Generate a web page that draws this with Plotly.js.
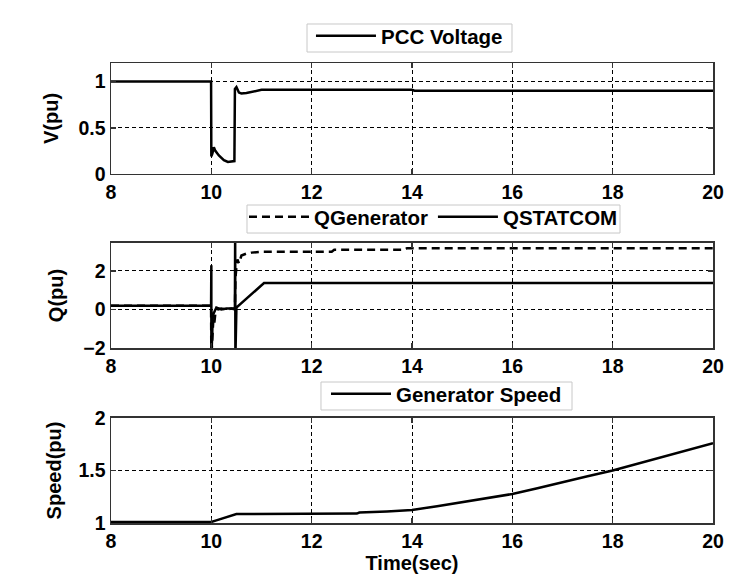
<!DOCTYPE html>
<html><head><meta charset="utf-8">
<script src="https://cdn.plot.ly/plotly-3.0.1.min.js"></script>
<style>html,body{margin:0;padding:0;background:#fff}#chart{width:732px;height:585px}</style>
</head><body><div id="chart"></div>
<script>
const voltTime = [8, 9.995, 10.0, 10.02, 10.05, 10.08, 10.15, 10.25, 10.33, 10.46, 10.47, 10.5, 10.55, 10.6, 10.7, 10.8, 10.9, 11.0, 14.0, 14.05, 20];
const voltPU   = [1.0, 1.0, 0.19, 0.22, 0.29, 0.25, 0.2, 0.15, 0.13, 0.14, 0.92, 0.94, 0.88, 0.87, 0.875, 0.885, 0.895, 0.91, 0.91, 0.9, 0.9];

const qGenTime = [8, 9.995, 10.0, 10.02, 10.04, 10.06, 10.08, 10.12, 10.2, 10.3, 10.4, 10.47, 10.48, 10.5, 10.52, 10.55, 10.6, 10.7, 10.8, 11.0, 12.4, 12.45, 13.85, 13.9, 20];
const qGen     = [0.2, 0.2, -2.5, -1.0, -0.5, -0.7, -0.2, 0.0, 0.05, 0.0, 0.05, 0.0, 1.6, 2.2, 2.6, 2.4, 2.8, 2.9, 2.95, 3.0, 3.0, 3.1, 3.1, 3.18, 3.18];

const qStatTime = [8, 9.995, 10.0, 10.001, 10.03, 10.06, 10.1, 10.2, 10.3, 10.4, 10.47, 10.475, 10.48, 10.5, 10.7, 10.9, 11.05, 20];
const qStat     = [0.2, 0.2, 2.3, -2.5, -0.3, -0.1, 0.1, 0.0, 0.05, 0.05, 0.05, 4.0, -2.5, 0.1, 0.55, 1.0, 1.37, 1.37];

const speedTime = [8, 10.0, 10.1, 10.3, 10.5, 12.9, 12.95, 13.5, 14, 14.5, 15, 15.5, 16, 16.5, 17, 17.5, 18, 18.5, 19, 19.5, 20];
const speedPU   = [1.01, 1.01, 1.025, 1.055, 1.085, 1.09, 1.1, 1.11, 1.124, 1.16, 1.2, 1.235, 1.276, 1.33, 1.39, 1.445, 1.5, 1.565, 1.63, 1.695, 1.76];

const xTicks = [8, 10, 12, 14, 16, 18, 20];

const FONT = 'Liberation Sans, Arial, sans-serif';
const tickFont = {family: FONT, size: 19.5, color: '#000', weight: 'bold'};
const titleFont = {family: FONT, size: 20, color: '#000', weight: 'bold'};
const legFont = {family: FONT, size: 20.5, color: '#000', weight: 'bold'};

function xax(anchor, title) {
  const a = {
    domain: [0, 1], anchor: anchor, range: [8, 20], tickvals: xTicks,
    showline: true, mirror: 'ticks', linecolor: '#333', linewidth: 1.5,
    ticks: 'inside', ticklen: 5, tickcolor: '#333', tickwidth: 1.5,
    showgrid: true, gridcolor: '#000', gridwidth: 1, griddash: '4px,3px',
    zeroline: false, tickfont: tickFont, automargin: false
  };
  if (title) a.title = {text: title, font: titleFont, standoff: 2};
  return a;
}
function yax(domain, range, tickvals, title, standoff) {
  return {
    domain: domain, range: range, tickvals: tickvals,
    showline: true, mirror: 'ticks', linecolor: '#333', linewidth: 1.5,
    ticks: 'inside', ticklen: 5, tickcolor: '#333', tickwidth: 1.5,
    showgrid: true, gridcolor: '#000', gridwidth: 1, griddash: '4px,3px',
    zeroline: false, tickfont: tickFont, automargin: false,
    title: {text: title, font: titleFont, standoff: standoff}
  };
}

const traces = [
  {x: voltTime, y: voltPU, xaxis: 'x', yaxis: 'y', mode: 'lines', name: 'PCC Voltage',
   line: {color: '#000', width: 2.5}, legend: 'legend'},
  {x: qGenTime, y: qGen, xaxis: 'x2', yaxis: 'y2', mode: 'lines', name: 'QGenerator',
   line: {color: '#000', width: 2.5, dash: '8px,5px'}, legend: 'legend2'},
  {x: qStatTime, y: qStat, xaxis: 'x2', yaxis: 'y2', mode: 'lines', name: 'QSTATCOM',
   line: {color: '#000', width: 2.5}, legend: 'legend2'},
  {x: speedTime, y: speedPU, xaxis: 'x3', yaxis: 'y3', mode: 'lines', name: 'Generator Speed',
   line: {color: '#000', width: 2.5}, legend: 'legend3'}
];

const legBase = {orientation: 'h', xanchor: 'center', yanchor: 'top', bgcolor: 'rgba(0,0,0,0)',
  borderwidth: 0, font: legFont, itemwidth: 60};

function legBox(x0, x1, y0, y1) {
  return {type: 'rect', xref: 'paper', yref: 'paper', x0: x0, x1: x1, y0: y0, y1: y1,
    line: {color: '#c8c8c8', width: 1}, fillcolor: '#fff', layer: 'above'};
}

const layout = {
  width: 732, height: 585,
  margin: {l: 111, r: 19, t: 63, b: 62},
  paper_bgcolor: '#fff', plot_bgcolor: '#fff',
  showlegend: true,
  xaxis: xax('y'),
  xaxis2: xax('y2'),
  xaxis3: xax('y3', 'Time(sec)'),
  yaxis: yax([0.7587, 1], [0, 1.2], [0, 0.5, 1], 'V(pu)', 14),
  yaxis2: yax([0.3804, 0.6087], [-2, 3.45], [-2, 0, 2], 'Q(pu)', 14),
  yaxis3: yax([0, 0.2283], [1, 2], [1, 1.5, 2], 'Speed(pu)', 11),
  legend: Object.assign({}, legBase, {x: 0.4958, y: 1.1022}),
  legend2: Object.assign({}, legBase, {x: 0.5357, y: 0.7087}),
  legend3: Object.assign({}, legBase, {x: 0.5573, y: 0.3239}),
  shapes: [
    legBox(0.3256, 0.6661, 1.0239, 1.0848),
    legBox(0.2259, 0.8455, 0.6304, 0.6913),
    legBox(0.3488, 0.7658, 0.2457, 0.3065)
  ]
};

Plotly.newPlot('chart', traces, layout, {displayModeBar: false, staticPlot: true});
</script></body></html>
